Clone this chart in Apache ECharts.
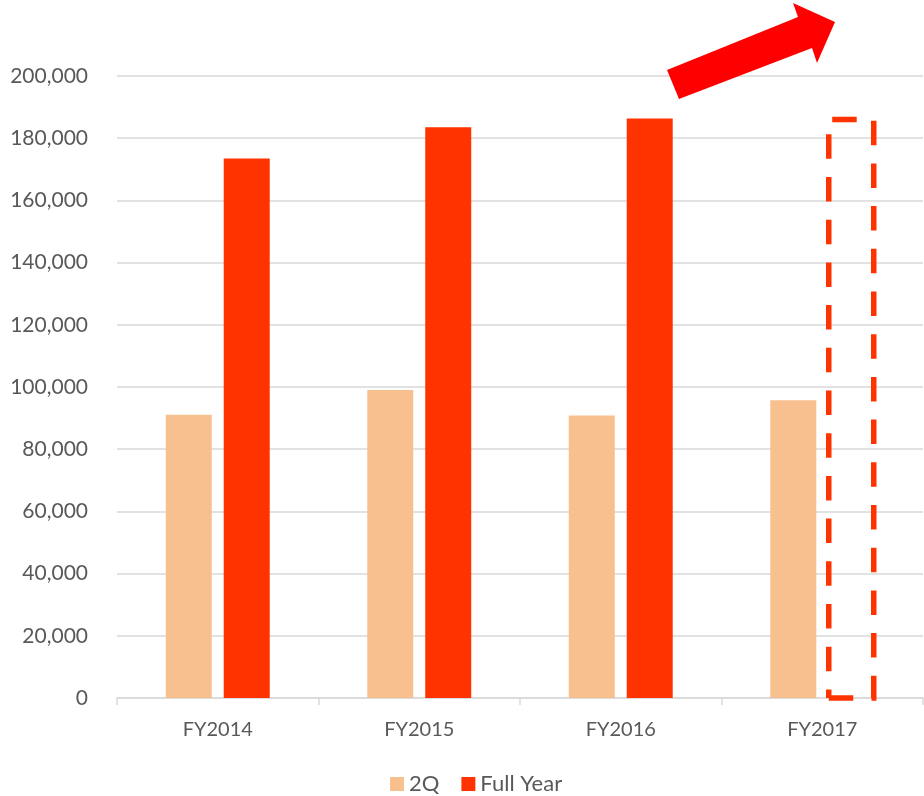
<!DOCTYPE html>
<html>
<head>
<meta charset="utf-8">
<script src="https://cdn.jsdelivr.net/npm/echarts@6/dist/echarts.min.js"></script>
<style>
  html, body { margin: 0; padding: 0; background: #ffffff; }
  #chart { width: 924px; height: 796px; }
</style>
</head>
<body>
<div id="chart"></div>
<script>
// Fiscal years on the category axis
const categories = ['FY2014', 'FY2015', 'FY2016', 'FY2017'];
// First-half (2Q) results
const secondQuarter = [91100, 99000, 90800, 95700];
// Full-year results (FY2017 not yet closed)
const fullYear = [173500, 183500, 186300, null];
// FY2017 full-year forecast, drawn as a dashed outline
const forecastCategory = 'FY2017';
const fullYearForecast = 186000;
// Value axis
const yMin = 0;
const yMax = 200000;
const yStep = 20000;

const BAR_WIDTH = 46;
const BAR_OFFSET = 29; // centre of the second bar in each group, relative to the band centre

const chart = echarts.init(document.getElementById('chart'));

const font = 'Lato, "Open Sans", sans-serif';

// Dashed outline of the forecast bar, traced from the bottom-left corner
function renderForecast(params, api) {
  const top = api.coord([api.value(0), api.value(1)]);
  const base = api.coord([api.value(0), 0]);
  const cx = top[0] + BAR_OFFSET;
  const half = (BAR_WIDTH - 1) / 2;
  return {
    type: 'polyline',
    shape: {
      points: [
        [cx - half, base[1]],
        [cx + half, base[1]],
        [cx + half, top[1]],
        [cx - half, top[1]],
        [cx - half, base[1]]
      ]
    },
    style: {
      fill: null,
      stroke: '#FF3300',
      lineWidth: 5.5,
      lineDash: [24.5, 18.2],
      lineDashOffset: 0,
      lineJoin: 'miter',
      lineCap: 'butt'
    },
    z2: 5
  };
}

chart.setOption({
  animation: false,
  textStyle: { fontFamily: font },
  grid: { left: 117, right: 1, top: 76, bottom: 98, containLabel: false },
  legend: {
    top: 768,
    left: 385,
    itemWidth: 14,
    itemHeight: 14,
    itemGap: 22,
    icon: 'rect',
    textStyle: { color: '#595959', fontSize: 22, fontFamily: font },
    data: ['2Q', 'Full Year']
  },
  xAxis: {
    type: 'category',
    data: categories,
    axisLine: { lineStyle: { color: '#D9D9D9', width: 1.5 } },
    axisTick: { show: true, length: 7, lineStyle: { color: '#D9D9D9', width: 1.5 } },
    axisLabel: { color: '#595959', fontSize: 20, margin: 22, fontFamily: font }
  },
  yAxis: {
    type: 'value',
    min: yMin,
    max: yMax,
    interval: yStep,
    axisLine: { show: false },
    axisTick: { show: false },
    splitLine: { lineStyle: { color: '#D9D9D9', width: 1.5 } },
    axisLabel: {
      color: '#595959',
      fontSize: 21,
      margin: 29,
      fontFamily: font,
      formatter: v => v.toLocaleString('en-US')
    }
  },
  series: [
    {
      name: '2Q',
      type: 'bar',
      data: secondQuarter,
      barWidth: BAR_WIDTH,
      barGap: '26%',
      itemStyle: { color: '#F9C08F' }
    },
    {
      name: 'Full Year',
      type: 'bar',
      data: fullYear,
      barWidth: BAR_WIDTH,
      itemStyle: { color: '#FF3300' }
    },
    {
      name: 'Full Year forecast',
      type: 'custom',
      renderItem: renderForecast,
      data: [[forecastCategory, fullYearForecast]],
      encode: { x: 0, y: 1 },
      z: 5
    }
  ],
  graphic: [
    {
      type: 'polygon',
      shape: {
        points: [
          [667, 70], [798, 17], [793, 3], [835, 22],
          [817, 63], [812, 48], [679, 99]
        ]
      },
      style: { fill: '#FF0000' },
      z: 10
    }
  ]
});
</script>
</body>
</html>
